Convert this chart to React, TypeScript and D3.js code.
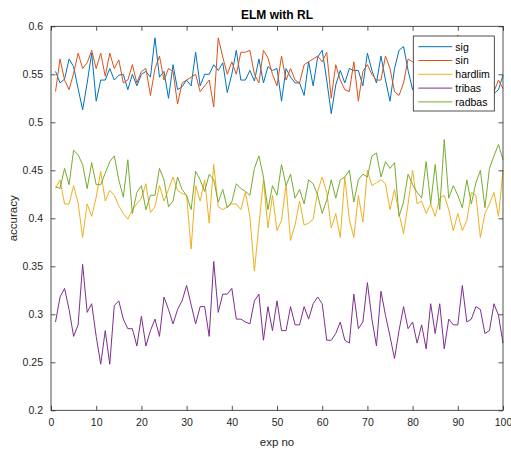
import React, { useEffect, useRef } from 'react';
import * as d3 from 'd3';

const sig = [
  0.553, 0.541, 0.545, 0.566, 0.558, 0.535, 0.513, 0.541, 0.572, 0.522,
  0.544, 0.544, 0.556, 0.544, 0.549, 0.55, 0.534, 0.55, 0.538, 0.55,
  0.553, 0.547, 0.588, 0.547, 0.553, 0.525, 0.56, 0.534, 0.537, 0.544,
  0.538, 0.573, 0.538, 0.55, 0.55, 0.56, 0.554, 0.562, 0.531, 0.55,
  0.575, 0.544, 0.544, 0.554, 0.543, 0.566, 0.541, 0.558, 0.554, 0.556,
  0.522, 0.556, 0.547, 0.541, 0.541, 0.528, 0.563, 0.538, 0.568, 0.575,
  0.544, 0.509, 0.539, 0.554, 0.541, 0.556, 0.554, 0.554, 0.538, 0.572,
  0.554, 0.541, 0.569, 0.544, 0.522, 0.556, 0.575, 0.579, 0.554, 0.534,
  0.548, 0.556, 0.541, 0.553, 0.56, 0.545, 0.538, 0.551, 0.557, 0.543,
  0.549, 0.562, 0.54, 0.552, 0.546, 0.558, 0.541, 0.53, 0.534, 0.549,
];
const sin = [
  0.532, 0.566, 0.544, 0.534, 0.551, 0.572, 0.556, 0.562, 0.575, 0.556,
  0.572, 0.548, 0.572, 0.556, 0.565, 0.541, 0.544, 0.56, 0.541, 0.553,
  0.556, 0.528, 0.556, 0.569, 0.544, 0.556, 0.553, 0.519, 0.541, 0.544,
  0.547, 0.55, 0.532, 0.538, 0.544, 0.516, 0.588, 0.568, 0.55, 0.563,
  0.55, 0.573, 0.573, 0.575, 0.55, 0.541, 0.575, 0.567, 0.55, 0.538,
  0.569, 0.544, 0.556, 0.544, 0.541, 0.56, 0.563, 0.566, 0.569, 0.563,
  0.573, 0.525, 0.56, 0.544, 0.534, 0.532, 0.563, 0.522, 0.553, 0.56,
  0.55, 0.544, 0.544, 0.569, 0.556, 0.532, 0.528, 0.541, 0.566, 0.563,
  0.56, 0.552, 0.545, 0.563, 0.538, 0.556, 0.548, 0.566, 0.55, 0.591,
  0.545, 0.558, 0.536, 0.553, 0.547, 0.561, 0.54, 0.532, 0.544, 0.535,
];
const hardlim = [
  0.431, 0.44, 0.415, 0.415, 0.434, 0.416, 0.38, 0.415, 0.402, 0.422,
  0.449, 0.418, 0.429, 0.424, 0.413, 0.405, 0.399, 0.409, 0.415, 0.421,
  0.436, 0.406, 0.412, 0.434, 0.418, 0.43, 0.443, 0.429, 0.426, 0.424,
  0.368, 0.434, 0.418, 0.44, 0.395, 0.456, 0.412, 0.409, 0.412, 0.415,
  0.415, 0.409, 0.427, 0.402, 0.345, 0.393, 0.44, 0.39, 0.424, 0.387,
  0.398, 0.435, 0.377, 0.393, 0.418, 0.393, 0.395, 0.399, 0.428, 0.443,
  0.427, 0.39, 0.405, 0.38, 0.443, 0.399, 0.38, 0.424, 0.396, 0.45,
  0.434, 0.437, 0.44, 0.436, 0.409, 0.43, 0.405, 0.384, 0.415, 0.45,
  0.415, 0.418, 0.405, 0.415, 0.402, 0.421, 0.424, 0.409, 0.387, 0.405,
  0.387, 0.398, 0.427, 0.424, 0.38, 0.405, 0.415, 0.427, 0.402, 0.45,
];
const tribas = [
  0.292, 0.318, 0.327, 0.305, 0.277, 0.289, 0.352, 0.302, 0.311, 0.277,
  0.248, 0.283, 0.248, 0.309, 0.314, 0.295, 0.285, 0.285, 0.267, 0.298,
  0.267, 0.283, 0.295, 0.277, 0.318, 0.305, 0.29, 0.305, 0.314, 0.33,
  0.31, 0.29, 0.308, 0.308, 0.277, 0.355, 0.302, 0.321, 0.321, 0.327,
  0.295, 0.295, 0.292, 0.29, 0.314, 0.321, 0.273, 0.308, 0.283, 0.314,
  0.283, 0.283, 0.308, 0.289, 0.289, 0.308, 0.295, 0.311, 0.318, 0.311,
  0.273, 0.273, 0.28, 0.292, 0.273, 0.27, 0.321, 0.285, 0.292, 0.333,
  0.295, 0.267, 0.324, 0.299, 0.277, 0.254, 0.283, 0.308, 0.285, 0.292,
  0.27, 0.289, 0.264, 0.311, 0.28, 0.311, 0.264, 0.295, 0.289, 0.289,
  0.33, 0.292, 0.295, 0.308, 0.305, 0.28, 0.283, 0.311, 0.299, 0.27,
];
const radbas = [
  0.433, 0.431, 0.452, 0.435, 0.471, 0.466, 0.456, 0.431, 0.458, 0.435,
  0.435, 0.447, 0.459, 0.465, 0.44, 0.422, 0.461, 0.405, 0.427, 0.434,
  0.409, 0.424, 0.424, 0.452, 0.44, 0.412, 0.418, 0.443, 0.43, 0.424,
  0.409, 0.449, 0.44, 0.428, 0.446, 0.44, 0.417, 0.43, 0.411, 0.417,
  0.436, 0.431, 0.428, 0.424, 0.452, 0.465, 0.443, 0.409, 0.434, 0.424,
  0.456, 0.434, 0.446, 0.421, 0.43, 0.415, 0.44, 0.436, 0.424, 0.405,
  0.419, 0.44, 0.421, 0.44, 0.443, 0.45, 0.417, 0.44, 0.446, 0.443,
  0.465, 0.468, 0.443, 0.459, 0.452, 0.458, 0.402, 0.417, 0.446, 0.435,
  0.427, 0.421, 0.459, 0.415, 0.456, 0.409, 0.482, 0.421, 0.434, 0.424,
  0.411, 0.44, 0.415, 0.437, 0.45, 0.411, 0.452, 0.465, 0.477, 0.461,
];

const seriesNames = ['sig', 'sin', 'hardlim', 'tribas', 'radbas'];
const seriesData = [sig, sin, hardlim, tribas, radbas];
const colors = ['#0072BD', '#D95319', '#EDB120', '#7E2F8E', '#77AC30'];
const xTicks = d3.range(0, 101, 10);
const yTicks = [0.2, 0.25, 0.3, 0.35, 0.4, 0.45, 0.5, 0.55, 0.6];

const W = 511;
const H = 449;
const FONT = '"Liberation Sans", Arial, Helvetica, sans-serif';

export default function App() {
  const ref = useRef<SVGSVGElement>(null);

  useEffect(() => {
    const svg = d3.select(ref.current);
    svg.selectAll('*').remove();

    const left = 51, right = 503, top = 26.3, bottom = 410.3;
    const x = d3.scaleLinear().domain([0, 100]).range([left, right]);
    const y = d3.scaleLinear().domain([0.2, 0.6]).range([bottom, top]);
    const ink = '#262626';

    svg.append('rect').attr('width', W).attr('height', H).attr('fill', '#fff');

    // lines
    const line = d3
      .line<number>()
      .x((_, i) => x(i + 1))
      .y((d) => y(d));
    seriesData.forEach((vals, k) => {
      svg
        .append('path')
        .datum(vals)
        .attr('d', line)
        .attr('fill', 'none')
        .attr('stroke', colors[k])
        .attr('stroke-width', 1)
        .attr('stroke-linejoin', 'round');
    });

    // axes (box with ticks on all four sides)
    const tk = 4.5;
    const styleAxis = (g: any) => {
      g.select('.domain').remove();
      g.selectAll('line').attr('stroke', ink).attr('stroke-width', 0.8);
      g.selectAll('text')
        .attr('fill', ink)
        .style('font-family', FONT)
        .style('font-size', '10.5px');
    };
    svg
      .append('g')
      .attr('transform', `translate(0,${bottom})`)
      .call(d3.axisBottom(x).tickValues(xTicks).tickSize(-tk).tickPadding(8).tickFormat(d3.format('d')))
      .call(styleAxis);
    svg
      .append('g')
      .attr('transform', `translate(0,${top})`)
      .call(d3.axisTop(x).tickValues(xTicks).tickSize(-tk).tickFormat(() => ''))
      .call(styleAxis);
    svg
      .append('g')
      .attr('transform', `translate(${left},0)`)
      .call(d3.axisLeft(y).tickValues(yTicks).tickSize(-tk).tickPadding(8).tickFormat((d: any) => String(+d)))
      .call(styleAxis);
    svg
      .append('g')
      .attr('transform', `translate(${right},0)`)
      .call(d3.axisRight(y).tickValues(yTicks).tickSize(-tk).tickFormat(() => ''))
      .call(styleAxis);

    svg
      .append('rect')
      .attr('x', left)
      .attr('y', top)
      .attr('width', right - left)
      .attr('height', bottom - top)
      .attr('fill', 'none')
      .attr('stroke', ink)
      .attr('stroke-width', 0.8);

    // title + labels
    svg
      .append('text')
      .attr('x', (left + right) / 2)
      .attr('y', 19)
      .attr('text-anchor', 'middle')
      .style('font-family', FONT)
      .style('font-size', '12px')
      .style('font-weight', 'bold')
      .attr('fill', '#000')
      .text('ELM with RL');
    svg
      .append('text')
      .attr('x', (left + right) / 2)
      .attr('y', 446)
      .attr('text-anchor', 'middle')
      .style('font-family', FONT)
      .style('font-size', '11.5px')
      .attr('fill', ink)
      .text('exp no');
    svg
      .append('text')
      .attr('transform', `translate(17,${(top + bottom) / 2}) rotate(-90)`)
      .attr('text-anchor', 'middle')
      .style('font-family', FONT)
      .style('font-size', '11.5px')
      .attr('fill', ink)
      .text('accuracy');

    // legend
    const lg = svg.append('g').attr('transform', 'translate(413.3,36)');
    lg.append('rect')
      .attr('width', 81)
      .attr('height', 75)
      .attr('fill', '#fff')
      .attr('stroke', ink)
      .attr('stroke-width', 0.8);
    seriesNames.forEach((name, k) => {
      const yy = 10.7 + k * 13.8;
      lg.append('line')
        .attr('x1', 5)
        .attr('x2', 39)
        .attr('y1', yy)
        .attr('y2', yy)
        .attr('stroke', colors[k])
        .attr('stroke-width', 1);
      lg.append('text')
        .attr('x', 42)
        .attr('y', yy + 3.8)
        .style('font-family', FONT)
        .style('font-size', '10.5px')
        .attr('fill', '#000')
        .text(name);
    });
  }, []);

  return (
    <svg
      ref={ref}
      width={W}
      height={H}
      style={{ position: 'fixed', left: 0, top: 0, display: 'block' }}
    />
  );
}
